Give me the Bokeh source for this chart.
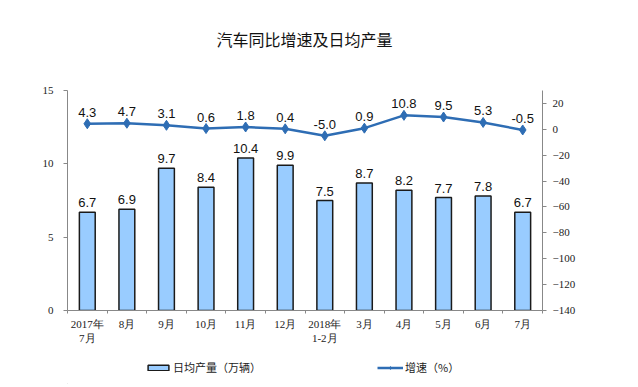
from bokeh.plotting import figure
from bokeh.layouts import column
from bokeh.models import (ColumnDataSource, Range1d, LinearAxis, FixedTicker,
                          LabelSet, Label, Legend, LegendItem)
from bokeh.core.properties import value
from bokeh.embed import file_html
from bokeh.resources import INLINE

title_text = "汽车同比增速及日均产量"
categories = ["2017年\n7月", "8月", "9月", "10月", "11月", "12月",
              "2018年\n1-2月", "3月", "4月", "5月", "6月", "7月"]
daily_output = [6.7, 6.9, 9.7, 8.4, 10.4, 9.9, 7.5, 8.7, 8.2, 7.7, 7.8, 6.7]
growth = [4.3, 4.7, 3.1, 0.6, 1.8, 0.4, -5.0, 0.9, 10.8, 9.5, 5.3, -0.5]
left_ticks = [0, 5, 10, 15]
right_ticks = [-140, -120, -100, -80, -60, -40, -20, 0, 20]
series_names = ["日均产量（万辆）", "增速（%）"]

BAR_FILL = "#99CCFF"
BAR_LINE = "#1a1a1a"
LINE_COLOR = "#2E6DB4"
FRAME_LEFT = 67

xs = list(range(len(categories)))
src = ColumnDataSource(dict(
    x=xs, bar=daily_output, g=growth,
    bar_lbl=[f"{v:.1f}" for v in daily_output],
    g_lbl=[f"{v:.1f}" for v in growth],
))


def blank(fig):
    fig.outline_line_color = None
    fig.xgrid.visible = False
    fig.ygrid.visible = False
    fig.xaxis.visible = False
    fig.yaxis.visible = False


# ---- title strip ----
TITLE_H = 60
pt = figure(width=622, height=TITLE_H, output_backend="svg", toolbar_location=None,
            x_range=Range1d(0, 1), y_range=Range1d(0, 1),
            min_border_left=0, min_border_right=0, min_border_top=0, min_border_bottom=0)
blank(pt)
pt.add_layout(Label(x=304 - FRAME_LEFT, y=TITLE_H - 38, x_units="screen", y_units="screen",
                    text=title_text, text_align="center", text_baseline="middle",
                    text_font="Noto Sans CJK SC", text_font_size="16px",
                    text_color="#111111"))

# ---- main chart ----
p = figure(frame_width=475, frame_height=220, output_backend="svg", toolbar_location=None,
           x_range=Range1d(-0.5, len(categories) - 0.5), y_range=Range1d(0, 15),
           min_border_left=FRAME_LEFT, min_border_right=80, min_border_top=90 - TITLE_H,
           min_border_bottom=44)
p.outline_line_color = None
p.xgrid.visible = False
p.ygrid.visible = False

p.extra_y_ranges = {"r": Range1d(-140, 30)}

p.vbar(x="x", top="bar", width=0.4, source=src, fill_color=BAR_FILL,
       line_color=BAR_LINE, line_width=1.5)
p.line(x="x", y="g", source=src, y_range_name="r", line_color=LINE_COLOR, line_width=2.5)
p.scatter(x="x", y="g", source=src, y_range_name="r", marker="diamond",
          size=10, fill_color=LINE_COLOR, line_color=LINE_COLOR)

p.add_layout(LabelSet(x="x", y="bar", text="bar_lbl", source=src, y_offset=5,
                      text_align="center", text_font=value("Liberation Sans"),
                      text_font_size="13px", text_color="#111111"))
p.add_layout(LabelSet(x="x", y="g", text="g_lbl", source=src, y_range_name="r",
                      y_offset=7, text_align="center", text_font=value("Liberation Sans"),
                      text_font_size="13px", text_color="#111111"))

axis_color = "#888888"
tick_font = "Liberation Serif"

xa = p.xaxis[0]
xa.ticker = FixedTicker(ticks=xs, minor_ticks=[i - 0.5 for i in range(len(categories) + 1)])
xa.major_label_overrides = {i: c for i, c in enumerate(categories)}
xa.major_tick_line_color = None
xa.major_tick_in = 0
xa.major_tick_out = 0
xa.minor_tick_in = 0
xa.minor_tick_out = 3
xa.minor_tick_line_color = axis_color
xa.axis_line_color = axis_color
xa.major_label_text_font = tick_font
xa.major_label_text_font_size = "11px"
xa.major_label_text_color = "#222222"
xa.major_label_standoff = 4

ya = p.yaxis[0]
ya.ticker = FixedTicker(ticks=left_ticks)
ya.minor_tick_line_color = None
ya.major_tick_in = 0
ya.major_tick_out = 4
ya.major_tick_line_color = axis_color
ya.axis_line_color = axis_color
ya.major_label_text_font = tick_font
ya.major_label_text_font_size = "11px"
ya.major_label_text_color = "#222222"
ya.major_label_standoff = 10

ra = LinearAxis(y_range_name="r", ticker=FixedTicker(ticks=right_ticks))
ra.minor_tick_line_color = None
ra.major_tick_in = 0
ra.major_tick_out = 4
ra.major_tick_line_color = axis_color
ra.axis_line_color = axis_color
ra.major_label_text_font = tick_font
ra.major_label_text_font_size = "11px"
ra.major_label_text_color = "#222222"
ra.major_label_standoff = 6
p.add_layout(ra, "right")

# ---- legend strip (swatch renderers sit outside the strip's visible range) ----
LEG_H = 30
pl = figure(width=622, height=LEG_H, output_backend="svg", toolbar_location=None,
            x_range=Range1d(0, 1), y_range=Range1d(0, 1),
            min_border_left=0, min_border_right=0, min_border_top=0, min_border_bottom=0)
blank(pl)
swatch = ColumnDataSource(dict(x=[-10], y=[-10], top=[-10]))
lb = pl.vbar(x="x", top="top", width=0.4, source=swatch, fill_color=BAR_FILL,
             line_color=BAR_LINE, line_width=1.5)
ll = pl.line(x="x", y="y", source=swatch, line_color=LINE_COLOR, line_width=2.5)
ls = pl.scatter(x="x", y="y", source=swatch, marker="diamond", size=7,
                fill_color=LINE_COLOR, line_color=LINE_COLOR)
legend = Legend(items=[LegendItem(label=series_names[0], renderers=[lb], index=0),
                       LegendItem(label=series_names[1], renderers=[ll, ls], index=0)],
                orientation="horizontal", location=(145 - FRAME_LEFT, 9), spacing=116,
                label_text_font="Noto Sans CJK SC", label_text_font_size="11px",
                label_text_color="#222222", glyph_width=26, glyph_height=7,
                border_line_color=None, background_fill_alpha=0, padding=0,
                margin=0, label_standoff=2, label_height=14)
pl.add_layout(legend, "center")

layout = column(pt, p, pl, spacing=0)
open("out.html", "w").write(file_html(layout, INLINE))
